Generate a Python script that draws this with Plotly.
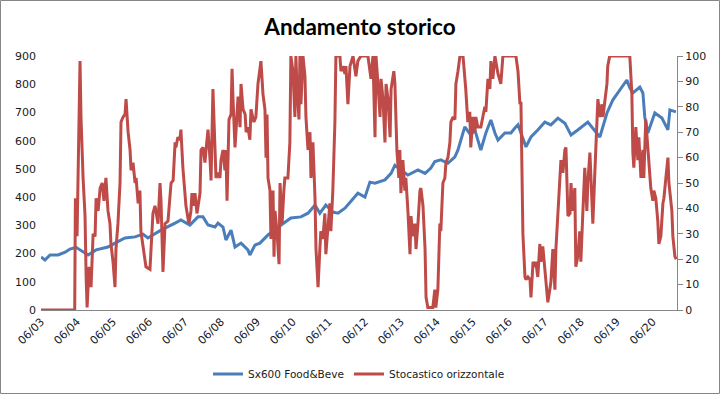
import plotly.graph_objects as go
import pandas as pd

# ---------------- data ----------------
sx600_dates = [
    "2003-06-01", "2003-07-11", "2003-09-01", "2003-11-21", "2004-02-01", "2004-03-21",
    "2004-05-21", "2004-07-01", "2004-09-21", "2004-12-11", "2005-04-11", "2005-06-21",
    "2005-10-01", "2006-01-11", "2006-04-01", "2006-05-21", "2006-10-01", "2007-02-21",
    "2007-04-21", "2007-07-21", "2007-10-11", "2007-12-01", "2008-01-21", "2008-04-01",
    "2008-05-01", "2008-06-21", "2008-07-21", "2008-09-11", "2008-10-21", "2008-12-21",
    "2009-03-01", "2009-03-21", "2009-05-11", "2009-07-01", "2009-09-21", "2010-02-01",
    "2010-05-11", "2010-08-21", "2010-11-01", "2011-01-11", "2011-03-01", "2011-05-01",
    "2011-07-11", "2011-09-01", "2011-11-11", "2012-03-21", "2012-06-01", "2012-07-21",
    "2012-09-11", "2012-12-21", "2013-02-21", "2013-04-01", "2013-06-01", "2013-08-11",
    "2013-11-21", "2014-02-01", "2014-04-01", "2014-05-11", "2014-07-11", "2014-09-21",
    "2014-12-01", "2015-01-01", "2015-03-11", "2015-05-11", "2015-06-21", "2015-08-21",
    "2015-10-11", "2015-12-01", "2016-01-11", "2016-02-11", "2016-04-21", "2016-06-21",
    "2016-08-01", "2016-09-01", "2016-11-21", "2017-01-11", "2017-03-21", "2017-06-01",
    "2017-08-01", "2017-10-11", "2017-12-21", "2018-02-21", "2018-05-01", "2018-07-11",
    "2018-08-11", "2018-12-11", "2019-02-21", "2019-04-21", "2019-09-11", "2019-10-11",
    "2019-11-11", "2020-01-21", "2020-02-21", "2020-03-11", "2020-04-11", "2020-06-21",
    "2020-09-01", "2020-11-01", "2020-11-21", "2021-01-21",
]
sx600_values = [
    188, 177, 195, 195, 205, 216,
    222, 213, 195, 213, 223, 237,
    255, 259, 269, 255, 283, 308,
    319, 301, 330, 330, 301, 294,
    308, 294, 248, 283, 223, 237,
    213, 195, 230, 237, 266, 301,
    326, 330, 343, 372, 343, 372,
    347, 343, 361, 414, 400, 453,
    449, 461, 484, 513, 496, 478,
    496, 484, 503, 526, 532, 520,
    543, 567, 649, 620, 638, 567,
    627, 673, 627, 602, 627, 627,
    645, 656, 578, 613, 638, 666,
    656, 680, 662, 620, 638, 656,
    666, 613, 698, 744, 815, 787,
    769, 790, 769, 684, 627, 698,
    680, 638, 709, 702,
]

stoc_dates = [
    "2003-06-01", "2004-05-08", "2004-05-15", "2004-06-01", "2004-07-01", "2004-07-11",
    "2004-08-01", "2004-08-21", "2004-09-01", "2004-09-11", "2004-10-01", "2004-10-21",
    "2004-11-11", "2004-12-01", "2004-12-11", "2005-01-01", "2005-01-21", "2005-02-11",
    "2005-03-01", "2005-03-21", "2005-04-11", "2005-05-01", "2005-05-11", "2005-06-01",
    "2005-06-21", "2005-07-01", "2005-07-21", "2005-08-11", "2005-08-21", "2005-09-11",
    "2005-10-01", "2005-10-11", "2005-11-01", "2005-11-21", "2005-12-01", "2005-12-21",
    "2006-01-11", "2006-01-21", "2006-02-11", "2006-03-01", "2006-03-11", "2006-04-11",
    "2006-05-01", "2006-06-11", "2006-07-11", "2006-08-01", "2006-09-01", "2006-09-21",
    "2006-10-01", "2006-10-21", "2006-11-11", "2006-12-11", "2007-01-11", "2007-02-01",
    "2007-02-21", "2007-03-01", "2007-03-21", "2007-04-11", "2007-04-21", "2007-05-11",
    "2007-06-01", "2007-06-11", "2007-07-11", "2007-08-01", "2007-08-11", "2007-09-01",
    "2007-09-11", "2007-10-01", "2007-11-01", "2007-11-11", "2007-12-01", "2007-12-21",
    "2008-01-01", "2008-01-21", "2008-02-11", "2008-02-21", "2008-03-11", "2008-04-01",
    "2008-04-11", "2008-05-01", "2008-05-21", "2008-06-01", "2008-06-21", "2008-07-11",
    "2008-07-21", "2008-08-01", "2008-08-21", "2008-09-11", "2008-09-21", "2008-10-01",
    "2008-10-21", "2008-11-01", "2008-11-21", "2008-12-11", "2008-12-21", "2009-01-11",
    "2009-02-01", "2009-02-11", "2009-03-01", "2009-03-21", "2009-04-01", "2009-05-01",
    "2009-05-21", "2009-06-11", "2009-07-01", "2009-07-11", "2009-08-01", "2009-08-21",
    "2009-09-01", "2009-09-11", "2009-09-21", "2009-10-11", "2009-10-21", "2009-11-11",
    "2009-11-21", "2009-12-01", "2009-12-21", "2010-01-11", "2010-01-21", "2010-02-11",
    "2010-03-01", "2010-03-11", "2010-04-11", "2010-05-01", "2010-05-11", "2010-06-01",
    "2010-06-21", "2010-07-01", "2010-07-11", "2010-08-01", "2010-08-11", "2010-08-21",
    "2010-09-11", "2010-10-01", "2010-10-11", "2010-11-01", "2010-11-21", "2010-12-01",
    "2010-12-21", "2011-01-11", "2011-01-21", "2011-02-11", "2011-03-01", "2011-03-11",
    "2011-04-01", "2011-04-21", "2011-05-01", "2011-05-21", "2011-06-11", "2011-06-21",
    "2011-07-11", "2011-08-01", "2011-08-11", "2011-09-21", "2011-10-01", "2011-10-21",
    "2011-11-11", "2011-11-21", "2011-12-11", "2012-01-01", "2012-02-01", "2012-03-01",
    "2012-03-21", "2012-04-21", "2012-07-01", "2012-08-01", "2012-08-21", "2012-09-11",
    "2012-09-21", "2012-10-11", "2012-11-01", "2012-11-11", "2012-12-01", "2012-12-21",
    "2013-01-01", "2013-01-21", "2013-02-11", "2013-02-21", "2013-03-21", "2013-04-01",
    "2013-04-21", "2013-05-11", "2013-05-21", "2013-06-01", "2013-06-21", "2013-07-11",
    "2013-07-21", "2013-08-11", "2013-09-01", "2013-09-11", "2013-10-01", "2013-10-21",
    "2013-11-01", "2013-11-21", "2013-12-11", "2013-12-21", "2014-01-11", "2014-02-01",
    "2014-02-11", "2014-03-01", "2014-04-21", "2014-05-11", "2014-05-21", "2014-06-11",
    "2014-07-01", "2014-07-11", "2014-08-01", "2014-08-21", "2014-09-01", "2014-09-21",
    "2014-10-11", "2014-10-21", "2014-11-11", "2014-12-01", "2014-12-11", "2015-01-01",
    "2015-01-21", "2015-02-21", "2015-03-11", "2015-03-21", "2015-04-11", "2015-05-01",
    "2015-05-11", "2015-06-01", "2015-06-21", "2015-07-01", "2015-07-21", "2015-08-21",
    "2015-10-01", "2015-10-11", "2015-11-01", "2015-11-21", "2015-12-01", "2015-12-21",
    "2016-01-11", "2016-02-11", "2016-03-11", "2016-04-01", "2016-08-11", "2016-09-01",
    "2016-09-21", "2016-10-01", "2016-10-21", "2016-11-11", "2016-11-21", "2016-12-11",
    "2017-01-01", "2017-01-11", "2017-02-01", "2017-02-21", "2017-03-01", "2017-03-21",
    "2017-04-11", "2017-04-21", "2017-05-11", "2017-06-01", "2017-06-11", "2017-07-01",
    "2017-07-21", "2017-08-01", "2017-08-21", "2017-09-11", "2017-09-21", "2017-10-11",
    "2017-11-01", "2017-11-11", "2017-12-01", "2017-12-21", "2018-01-01", "2018-01-21",
    "2018-02-11", "2018-02-21", "2018-03-11", "2018-04-01", "2018-04-11", "2018-05-01",
    "2018-05-21", "2018-06-01", "2018-06-21", "2018-07-11", "2018-08-01", "2018-08-11",
    "2018-09-01", "2018-09-21", "2018-10-01", "2018-10-21", "2018-11-11", "2018-11-21",
    "2018-12-11", "2019-01-01", "2019-01-11", "2019-02-01", "2019-02-21", "2019-03-01",
    "2019-03-21", "2019-10-11", "2019-11-01", "2019-11-11", "2019-11-21", "2019-12-11",
    "2020-01-01", "2020-01-11", "2020-02-01", "2020-02-21", "2020-03-01", "2020-03-21",
    "2020-04-11", "2020-04-21", "2020-05-11", "2020-06-01", "2020-06-11", "2020-07-01",
    "2020-07-21", "2020-08-01", "2020-08-21", "2020-09-11", "2020-09-21", "2020-10-11",
    "2020-11-01", "2020-11-11", "2020-12-01", "2020-12-11", "2020-12-21", "2021-01-11",
    "2021-01-25",
]
stoc_values = [
    0, 0, 44, 29, 98, 76,
    52, 37, 13, 1, 17, 9,
    30, 29, 44, 39, 48, 50,
    43, 52, 39, 34, 26, 19,
    9, 24, 34, 50, 74, 76,
    77, 83, 70, 63, 55, 58,
    50, 52, 42, 47, 31, 21,
    17, 16, 38, 41, 34, 50,
    43, 15, 34, 35, 50, 51,
    66, 64, 68, 67, 71, 56,
    43, 41, 34, 39, 46, 41,
    46, 38, 46, 63, 64, 58,
    63, 71, 59, 51, 87, 63,
    52, 54, 52, 59, 63, 55,
    63, 43, 75, 77, 95, 83,
    64, 71, 84, 72, 89, 79,
    77, 70, 72, 67, 79, 74,
    76, 89, 94, 98, 85, 79,
    60, 77, 52, 47, 28, 47,
    21, 39, 31, 18, 50, 34,
    47, 52, 52, 66, 100, 94,
    76, 100, 89, 75, 100, 81,
    100, 92, 76, 63, 70, 52,
    66, 44, 24, 9, 24, 31,
    28, 38, 22, 31, 42, 31,
    47, 74, 100, 100, 94, 96,
    93, 96, 81, 96, 100, 92,
    98, 100, 100, 91, 100, 68,
    100, 89, 76, 91, 83, 66,
    89, 83, 68, 87, 94, 89,
    63, 52, 63, 46, 59, 47,
    52, 39, 22, 37, 29, 34,
    24, 34, 47, 48, 41, 24,
    5, 1, 1, 8, 1, 8,
    34, 31, 50, 52, 58, 60,
    66, 74, 76, 75, 89, 94,
    100, 100, 92, 87, 74, 78,
    64, 76, 70, 76, 72, 72,
    80, 78, 91, 87, 98, 91,
    100, 93, 89, 100, 100, 94,
    81, 82, 30, 13, 12, 13,
    12, 5, 19, 17, 19, 13,
    26, 19, 25, 17, 13, 3,
    8, 11, 24, 8, 24, 37,
    50, 59, 54, 63, 64, 37,
    38, 50, 39, 48, 17, 21,
    31, 19, 38, 56, 39, 50,
    62, 42, 34, 54, 70, 83,
    76, 81, 76, 83, 89, 96,
    100, 100, 85, 62, 56, 72,
    59, 68, 52, 63, 52, 75,
    64, 58, 48, 43, 47, 44,
    35, 26, 29, 42, 44, 52,
    60, 50, 44, 39, 29, 21,
    20,
]

tick_years = list(range(2003, 2021))
tick_labels = ["06/03", "06/04", "06/05", "06/06", "06/07", "06/08", "06/09", "06/10", "06/11",
               "06/12", "06/13", "06/14", "06/15", "06/16", "06/17", "06/18", "06/19", "06/20"]

left_ticks = [0, 100, 200, 300, 400, 500, 600, 700, 800, 900]
right_ticks = [0, 10, 20, 30, 40, 50, 60, 70, 80, 90, 100]

series_names = ["Sx600 Food&Beve", "Stocastico orizzontale"]
title_text = "Andamento storico"

# ---------------- figure ----------------
BLUE = "#4A7EBB"
RED = "#BE4B48"
AXIS_GREY = "#868686"
TXT = "#1a1a1a"
FONT = "DejaVu Sans"

fig = go.Figure()
fig.add_trace(go.Scatter(
    x=pd.to_datetime(sx600_dates), y=sx600_values, name=series_names[0],
    mode="lines", line=dict(color=BLUE, width=3), yaxis="y",
))
fig.add_trace(go.Scatter(
    x=pd.to_datetime(stoc_dates), y=stoc_values, name=series_names[1],
    mode="lines", line=dict(color=RED, width=3), yaxis="y2",
))

tickvals = [pd.Timestamp(year=y, month=6, day=1) for y in tick_years]

fig.update_layout(
    width=720, height=394, autosize=False,
    margin=dict(l=41, r=43, t=56, b=84, autoexpand=False),
    paper_bgcolor="white", plot_bgcolor="white",
    title=dict(text="<b>" + title_text + "</b>", x=0.5, xanchor="center",
               y=1 - 27 / 394, yanchor="middle",
               font=dict(family="Lato", size=22.5, color="#000000")),
    font=dict(family=FONT, size=11, color=TXT),
    showlegend=True,
    legend=dict(orientation="h", x=0.5, xanchor="center", y=-0.252, yanchor="middle",
                font=dict(family=FONT, size=10.5, color=TXT),
                itemwidth=30, tracegroupgap=0, bgcolor="rgba(0,0,0,0)"),
    xaxis=dict(
        type="date", range=["2003-06-01", "2021-02-01"],
        tickvals=tickvals, ticktext=tick_labels, tickangle=-45,
        showgrid=False, zeroline=False, automargin=False,
        showline=True, linecolor=AXIS_GREY, linewidth=1,
        ticks="", tickfont=dict(family=FONT, size=11, color=TXT),
    ),
    yaxis=dict(
        range=[0, 900], tickvals=left_ticks, showgrid=False, zeroline=False,
        showline=False, ticks="", ticklabelstandoff=4, automargin=False,
        tickfont=dict(family=FONT, size=11, color=TXT),
    ),
    yaxis2=dict(
        range=[0, 100], tickvals=right_ticks, overlaying="y", side="right",
        showgrid=False, zeroline=False, showline=True, linecolor=AXIS_GREY, linewidth=1,
        ticks="outside", ticklen=5, tickcolor=AXIS_GREY, automargin=False,
        tickfont=dict(family=FONT, size=11, color=TXT),
    ),
    shapes=[dict(type="rect", xref="paper", yref="paper",
                 x0=(0.5 - 41) / 636, x1=(719.5 - 41) / 636,
                 y0=(310 - 393.5) / 254, y1=(310 - 0.5) / 254,
                 line=dict(color=AXIS_GREY, width=1), fillcolor="rgba(0,0,0,0)",
                 layer="below")],
)

fig.write_html("out.html",
               config={"displayModeBar": False, "responsive": False},
               post_script="document.body.style.margin='0';document.body.style.padding='0';")
